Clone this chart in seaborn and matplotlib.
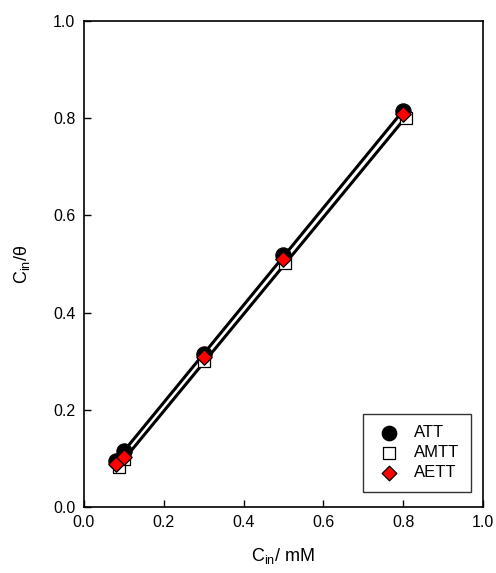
import numpy as np
import pandas as pd
import matplotlib
matplotlib.use("Agg")
import matplotlib.pyplot as plt
import seaborn as sns

sns.set_style("white")
plt.rcParams['font.family'] = ['Liberation Sans', 'DejaVu Sans']

att_x = [0.08, 0.10, 0.30, 0.50, 0.80]
att_y = [0.094, 0.115, 0.314, 0.518, 0.814]
amtt_x = [0.088, 0.10, 0.30, 0.505, 0.806]
amtt_y = [0.082, 0.098, 0.301, 0.501, 0.800]
aett_x = [0.08, 0.10, 0.30, 0.50, 0.80]
aett_y = [0.088, 0.103, 0.309, 0.509, 0.808]

series = [
    ("ATT", att_x, att_y, dict(marker="o", s=120, color="black", edgecolor="black")),
    ("AMTT", amtt_x, amtt_y, dict(marker="s", s=75, color="white", edgecolor="black")),
    ("AETT", aett_x, aett_y, dict(marker="D", s=62, color="red", edgecolor="black")),
]

fig = plt.figure(figsize=(4.96, 5.73), dpi=100)
ax = fig.add_axes([0.169, 0.115, 0.805, 0.849])

# fitted lines (ATT upper, AMTT lower)
for name, xs, ys, kw in series[:2]:
    sns.regplot(x=np.array(xs), y=np.array(ys), ax=ax, ci=None, scatter=False,
                truncate=True, line_kws=dict(color="black", lw=2.2, zorder=2,
                                             solid_capstyle="butt"))

for name, xs, ys, kw in series:
    df = pd.DataFrame({"x": xs, "y": ys})
    sns.scatterplot(data=df, x="x", y="y", ax=ax, label=name, linewidth=0.9,
                    zorder=3, **kw)

ax.set_xlim(0, 1.0)
ax.set_ylim(0, 1.0)
ticks = [0.0, 0.2, 0.4, 0.6, 0.8, 1.0]
ax.set_xticks(ticks)
ax.set_yticks(ticks)
ax.set_xticklabels([f"{t:.1f}" for t in ticks])
ax.set_yticklabels([f"{t:.1f}" for t in ticks])
ax.tick_params(direction="in", length=5, width=1, labelsize=11.5, color="black",
               labelcolor="black", bottom=True, left=True, pad=6)
for sp in ax.spines.values():
    sp.set_color("black")
    sp.set_linewidth(1.2)

ax.set_xlabel(r"C$_{\mathregular{in}}$/ mM", fontsize=13, labelpad=11, color="black")
ax.set_ylabel(r"C$_{\mathregular{in}}$/θ", fontsize=13, labelpad=15, color="black")

leg = ax.legend(loc="lower right", bbox_to_anchor=(0.970, 0.031), borderaxespad=0,
                frameon=True, fancybox=False, edgecolor="black", fontsize=12,
                handletextpad=0.6, handlelength=1.8, borderpad=0.7,
                labelspacing=0.3, markerscale=0.95)
leg.get_frame().set_linewidth(1.0)
for t in leg.get_texts():
    t.set_color("black")

fig.savefig("out.png", dpi=100)
